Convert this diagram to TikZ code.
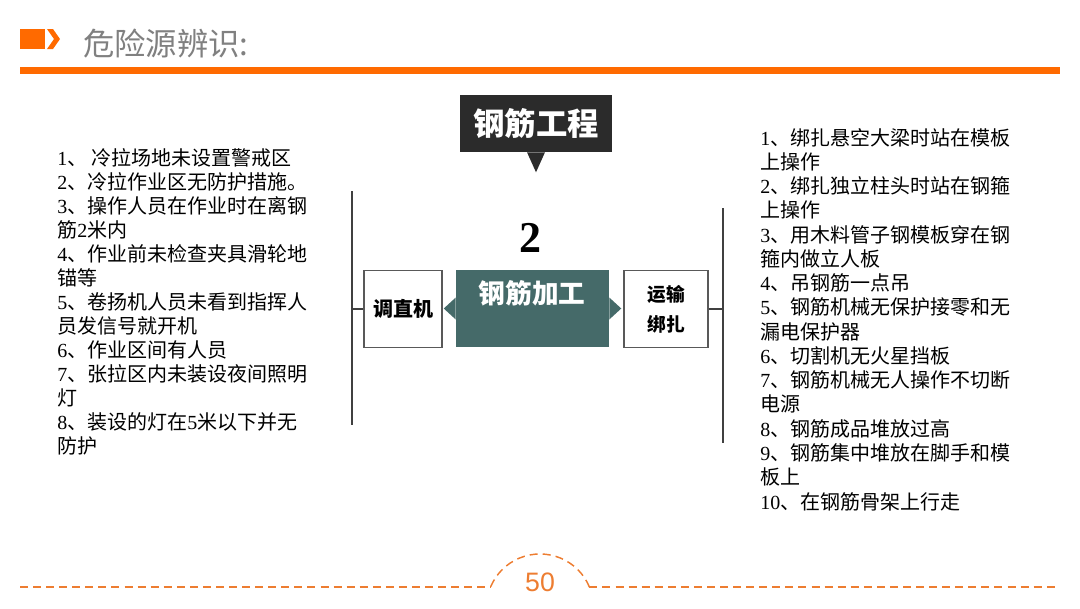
\documentclass[tikz,border=0pt]{standalone}
\usepackage{fontspec}
\setmainfont{Liberation Serif}
\newfontfamily\cjk{Noto Sans CJK SC}
\newfontfamily\arialfont{Liberation Sans}
\usetikzlibrary{positioning}
\usetikzlibrary{calc}

\definecolor{barorange}{HTML}{FF6A00}
\definecolor{numorange}{HTML}{ED7D31}
\definecolor{headgray}{HTML}{808080}
\definecolor{calloutdark}{HTML}{2B2B2B}
\definecolor{procteal}{HTML}{456A69}
\newcommand\sr[1]{{\rmfamily #1}}

\begin{document}
\begin{tikzpicture}[x=0.75pt, y=-0.75pt,
  listtxt/.style={anchor=base west, inner sep=0pt, font=\cjk\fontsize{15pt}{18pt}\selectfont},
  sidebox/.style={draw=black!65, line width=0.8pt, fill=white, align=center,
    minimum height=57.75pt, font=\cjk\bfseries\fontsize{14pt}{22.5pt}\selectfont},
  sidebar/.style={draw=black!75, line width=1pt},
  footdash/.style={draw=numorange, line width=1.1pt, dash pattern=on 6pt off 3.8pt}]
  \useasboundingbox (0,0) rectangle (1080,608);

  % header
  \fill[barorange] (20,29) rectangle (45,49);
  \fill[barorange] (47,29) -- (53,29) -- (60,39) -- (53,49) -- (47,49) -- (54,39) -- cycle;
  \node[anchor=west, inner sep=0pt, text=headgray, font=\cjk\fontsize{23.5pt}{26pt}\selectfont] (head) at (83,44) {危险源辨识:};
  \fill[barorange] (20,67) rectangle (1060,74);

  % callout on top
  \node[fill=calloutdark, text=white, minimum width=114pt, minimum height=42.75pt, inner sep=0pt,
    font=\cjk\bfseries\fontsize{23.5pt}{26pt}\selectfont] (topic) at (536,123.5) {钢筋工程};
  \fill[calloutdark] ($(topic.south)+(-9,0)$) -- ($(topic.south)+(0,20)$) -- ($(topic.south)+(9,0)$) -- cycle;

  \node[font=\bfseries\fontsize{33pt}{36pt}\selectfont, inner sep=0pt] (num) at (530,238) {2};

  % process and side boxes
  \node[fill=procteal, minimum width=114.75pt, minimum height=57.75pt, inner sep=0pt] (proc) at (532.5,308.5) {};
  \fill[procteal] ($(proc.west)+(0,-11)$) -- ($(proc.west)+(-12,0)$) -- ($(proc.west)+(0,11)$) -- cycle;
  \fill[procteal] ($(proc.east)+(0,-11)$) -- ($(proc.east)+(12,0)$) -- ($(proc.east)+(0,11)$) -- cycle;
  \node[text=white, inner sep=0pt, font=\cjk\bfseries\fontsize{20pt}{24pt}\selectfont] (proctxt) at (532,293) {钢筋加工};

  \node[sidebox, minimum width=58.5pt, font=\cjk\bfseries\fontsize{15pt}{22.5pt}\selectfont] (straight) at (403,309) {调直机};
  \node[sidebox, minimum width=63pt] (transport) at (666,309) {运输\\绑扎};

  % brackets
  \coordinate (ltop) at (352,191);
  \coordinate (lbot) at (352,425);
  \coordinate (rtop) at (723,208);
  \coordinate (rbot) at (723,443);
  \draw[sidebar] (ltop) -- (lbot);
  \draw[sidebar] (rtop) -- (rbot);
  \draw[sidebar] (ltop |- straight.west) -- (straight.west);
  \draw[sidebar] (transport.east) -- (rtop |- transport.east);

  % left list
  \foreach \t [count=\i] in {\sr{1}、 冷拉场地未设置警戒区, \sr{2}、冷拉作业区无防护措施。,
      \sr{3}、操作人员在作业时在离钢, 筋\sr{2}米内, \sr{4}、作业前未检查夹具滑轮地, 锚等,
      \sr{5}、卷扬机人员未看到指挥人, 员发信号就开机, \sr{6}、作业区间有人员,
      \sr{7}、张拉区内未装设夜间照明, 灯, \sr{8}、装设的灯在\sr{5}米以下并无, 防护} {
    \node[listtxt] (L\i) at (57,{165+24*(\i-1)}) {\t};
  }

  % right list
  \foreach \t [count=\i] in {\sr{1}、绑扎悬空大梁时站在模板, 上操作, \sr{2}、绑扎独立柱头时站在钢箍, 上操作,
      \sr{3}、用木料管子钢模板穿在钢, 箍内做立人板, \sr{4}、吊钢筋一点吊, \sr{5}、钢筋机械无保护接零和无,
      漏电保护器, \sr{6}、切割机无火星挡板, \sr{7}、钢筋机械无人操作不切断, 电源,
      \sr{8}、钢筋成品堆放过高, \sr{9}、钢筋集中堆放在脚手和模, 板上, \sr{10}、在钢筋骨架上行走} {
    \node[listtxt] (R\i) at (760,{145+24.27*(\i-1)}) {\t};
  }

  % footer
  \node[text=numorange, inner sep=0pt, font=\arialfont\fontsize{20pt}{22pt}\selectfont] (page) at (540,582) {50};
  \coordinate (fl) at (20,587);
  \coordinate (fr) at (1056,587);
  \draw[footdash] (fl) -- (490.6,587);
  \draw[footdash] (589.4,587) -- (fr);
  \draw[footdash] (589.4,587) arc[start angle=-22.5, end angle=-157.5, radius=53.5];
\end{tikzpicture}
\end{document}
